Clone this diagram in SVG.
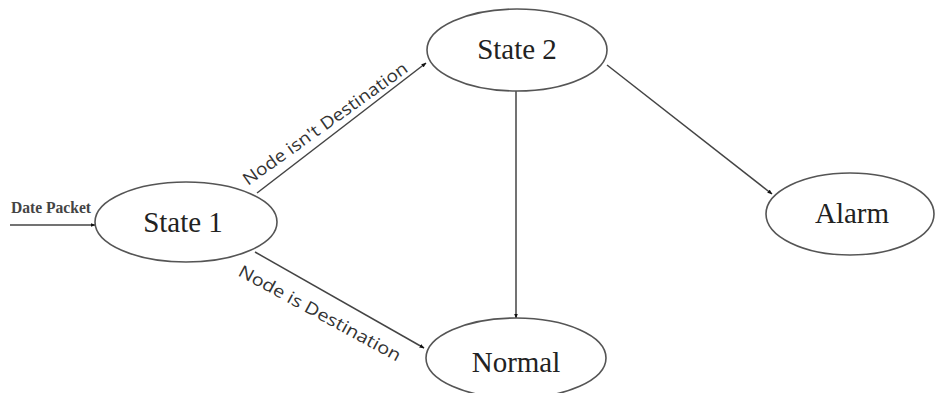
<svg xmlns="http://www.w3.org/2000/svg" width="937" height="393" viewBox="0 0 937 393">
<style>
.node ellipse{fill:#fff;stroke:#555;stroke-width:1.6}
.lbl{font-family:"Liberation Serif","Times New Roman",serif;font-size:29px;fill:#222;text-anchor:middle}
.edge{stroke:#444;stroke-width:1.5;fill:none}
.el{font-family:"Open Sans","Liberation Sans",sans-serif;font-size:17px;fill:#333}
</style>
<defs>
<marker id="ah" viewBox="0 0 10 10" refX="9" refY="5" markerWidth="5" markerHeight="5" orient="auto" markerUnits="userSpaceOnUse">
<path d="M0,1 L10,5 L0,9 z" fill="#111"/>
</marker>
</defs>
<rect width="937" height="393" fill="#fff"/>
<g id="connectors">
<line class="edge" x1="10" y1="225" x2="95" y2="225" marker-end="url(#ah)"/>
<line class="edge" x1="257" y1="193" x2="426" y2="63" marker-end="url(#ah)"/>
<line class="edge" x1="255" y1="252" x2="424" y2="348" marker-end="url(#ah)"/>
<line class="edge" x1="516" y1="90" x2="516" y2="318" marker-end="url(#ah)"/>
<line class="edge" x1="607" y1="65" x2="772" y2="194" marker-end="url(#ah)"/>
<text x="11" y="213" font-family="Liberation Serif, serif" font-size="16" font-weight="bold" fill="#444" textLength="80" lengthAdjust="spacingAndGlyphs">Date Packet</text>
<text class="el" transform="translate(248,186) rotate(-35.5)" textLength="198" lengthAdjust="spacingAndGlyphs">Node isn't Destination</text>
<text class="el" transform="translate(237,275) rotate(28.5)" textLength="182" lengthAdjust="spacingAndGlyphs">Node is Destination</text>
</g>
<g id="state1" class="node"><ellipse cx="186" cy="222" rx="91" ry="40"/><text class="lbl" x="183" y="232">State 1</text></g>
<g id="state2" class="node"><ellipse cx="517" cy="50" rx="90" ry="41"/><text class="lbl" x="517" y="59">State 2</text></g>
<g id="alarm" class="node"><ellipse cx="850" cy="214" rx="84" ry="41"/><text class="lbl" x="852" y="223">Alarm</text></g>
<g id="normal" class="node"><ellipse cx="516" cy="358" rx="90" ry="40"/><text class="lbl" x="516" y="372">Normal</text></g>
</svg>
